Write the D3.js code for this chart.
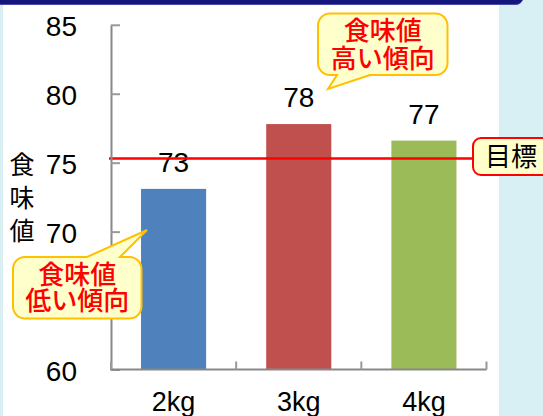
<!DOCTYPE html>
<html>
<head>
<meta charset="utf-8">
<script src="https://cdn.jsdelivr.net/npm/d3@7/dist/d3.min.js"></script>
<style>
  html, body { margin: 0; padding: 0; background: #d8eff4; }
  svg { display: block; }
</style>
</head>
<body>
<svg id="chart" width="543" height="416"></svg>
<script>
// Rice taste score by amount applied
const categories = ["2kg", "3kg", "4kg"];
const scores = [73.1, 77.8, 76.6];
const barColors = ["#4f81bd", "#c0504d", "#9bbb59"];
const target = 75.3;
const yTicks = [60, 65, 70, 75, 80, 85];
const yTickLabels = ["60", "", "70", "75", "80", "85"];
const yTitle = ["食", "味", "値"];
const highNote = ["食味値", "高い傾向"];
const lowNote = ["食味値", "低い傾向"];
const targetLabel = "目標";

const svg = d3.select("#chart");
const latin = "'Liberation Sans', Arial, sans-serif";
const cjk = "'Noto Sans CJK JP', 'Noto Sans', sans-serif";

// page background: light blue frame, white panel, navy header strip
svg.append("rect").attr("x", 0).attr("y", 0).attr("width", 543).attr("height", 416).attr("fill", "#d8eff4");
svg.append("rect").attr("x", 3).attr("y", 0).attr("width", 496).attr("height", 420).attr("fill", "#ffffff");
svg.append("rect").attr("x", -10).attr("y", -12).attr("width", 533).attr("height", 16.5).attr("rx", 7)
  .attr("fill", "#15157e").attr("stroke", "#4a4aa6").attr("stroke-width", 1);

// scales
const y = d3.scaleLinear().domain([60, 85]).range([369.5, 24.8]);
const x = d3.scaleBand().domain(categories).range([111, 486.5])
  .paddingInner(0.48).paddingOuter(0.24);

// bars
svg.append("g").selectAll("rect").data(categories).join("rect")
  .attr("x", d => x(d))
  .attr("y", (d, i) => y(scores[i]))
  .attr("width", x.bandwidth())
  .attr("height", (d, i) => y(60) - y(scores[i]))
  .attr("fill", (d, i) => barColors[i]);

// value labels
const fmt = d3.format(".0f");
svg.append("g").selectAll("text").data(categories).join("text")
  .attr("x", d => x(d) + x.bandwidth() / 2)
  .attr("y", (d, i) => y(scores[i]) - 17)
  .attr("text-anchor", "middle")
  .attr("font-family", latin).attr("font-size", 28).attr("fill", "#000")
  .text((d, i) => fmt(scores[i]));

// target line
svg.append("line")
  .attr("x1", 109).attr("x2", 474)
  .attr("y1", y(target)).attr("y2", y(target))
  .attr("stroke", "#ff0000").attr("stroke-width", 2.5);

// y axis (ticks pointing inward)
const yAxis = svg.append("g").attr("transform", "translate(111,0)")
  .call(d3.axisLeft(y).tickValues(yTicks).tickSizeInner(-9).tickSizeOuter(0).tickPadding(34)
    .tickFormat((d, i) => yTickLabels[i]));
yAxis.select(".domain").attr("stroke", "#888").attr("stroke-width", 2);
yAxis.selectAll(".tick line").attr("stroke", "#999").attr("stroke-width", 2);
yAxis.selectAll(".tick text").attr("font-family", latin).attr("font-size", 28).attr("fill", "#000").attr("dy", "0.38em");

// x axis with ticks between categories
const xAxis = svg.append("g");
const x0 = x.range()[0], step = x.step();
xAxis.append("line").attr("x1", x0 - 1).attr("x2", x.range()[1]).attr("y1", y(60)).attr("y2", y(60))
  .attr("stroke", "#888").attr("stroke-width", 2);
xAxis.selectAll("line.tk").data(d3.range(categories.length + 1)).join("line").attr("class", "tk")
  .attr("x1", i => x0 + i * step).attr("x2", i => x0 + i * step)
  .attr("y1", y(60)).attr("y2", y(60) - 8)
  .attr("stroke", "#999").attr("stroke-width", 2);
xAxis.selectAll("text").data(categories).join("text")
  .attr("x", d => x(d) + x.bandwidth() / 2)
  .attr("y", 411)
  .attr("text-anchor", "middle")
  .attr("font-family", latin).attr("font-size", 27).attr("fill", "#000")
  .text(d => d);

// vertical y-axis title
svg.append("g").selectAll("text").data(yTitle).join("text")
  .attr("x", 22).attr("y", (d, i) => 174 + i * 33)
  .attr("text-anchor", "middle")
  .attr("font-family", cjk).attr("font-size", 25).attr("fill", "#000")
  .text(d => d);

// speech-bubble outline: rounded box with a pointer on the top or bottom edge
function bubble(bx, by, w, h, r, edge, a, b, tip) {
  const p = d3.path();
  p.moveTo(bx + r, by);
  if (edge === "top") { p.lineTo(a, by); p.lineTo(tip[0], tip[1]); p.lineTo(b, by); }
  p.lineTo(bx + w - r, by);
  p.arcTo(bx + w, by, bx + w, by + r, r);
  p.lineTo(bx + w, by + h - r);
  p.arcTo(bx + w, by + h, bx + w - r, by + h, r);
  if (edge === "bottom") { p.lineTo(a, by + h); p.lineTo(tip[0], tip[1]); p.lineTo(b, by + h); }
  p.lineTo(bx + r, by + h);
  p.arcTo(bx, by + h, bx, by + h - r, r);
  p.lineTo(bx, by + r);
  p.arcTo(bx, by, bx + r, by, r);
  p.closePath();
  return p.toString();
}

// a callout: bubble plus a two-line caption set as one text block
function note(lines, bx, by, w, h, edge, a, b, tip, gap) {
  const g = svg.append("g");
  g.append("path").attr("d", bubble(bx, by, w, h, 12, edge, a, b, tip))
    .attr("fill", "#ffffcc").attr("stroke", "#ffc000").attr("stroke-width", 2);
  const t = g.append("text")
    .attr("text-anchor", "middle")
    .attr("font-family", cjk).attr("font-size", 26).attr("font-weight", 500).attr("fill", "#ff0000");
  t.selectAll("tspan").data(lines).join("tspan")
    .attr("x", bx + w / 2)
    .attr("y", (d, i) => by + h / 2 + (i - 0.5) * gap + 9.4)
    .text(d => d);
}

// "high" note near the 3kg bar, "low" note near the 2kg bar
note(highNote, 318, 13.5, 129.5, 61.5, "bottom", 370, 337, [328, 89], 28);
note(lowNote, 13, 257, 128.5, 61.5, "top", 87, 120, [147, 230], 26);

// target label box
const tg = svg.append("g");
tg.append("rect").attr("x", 473).attr("y", 138).attr("width", 84).attr("height", 37).attr("rx", 8)
  .attr("fill", "#ffffcc").attr("stroke", "#ff0000").attr("stroke-width", 2);
tg.append("text").attr("x", 511).attr("y", 156.5).attr("dy", "0.36em")
  .attr("text-anchor", "middle")
  .attr("font-family", cjk).attr("font-size", 26).attr("fill", "#000")
  .text(targetLabel);
</script>
</body>
</html>
